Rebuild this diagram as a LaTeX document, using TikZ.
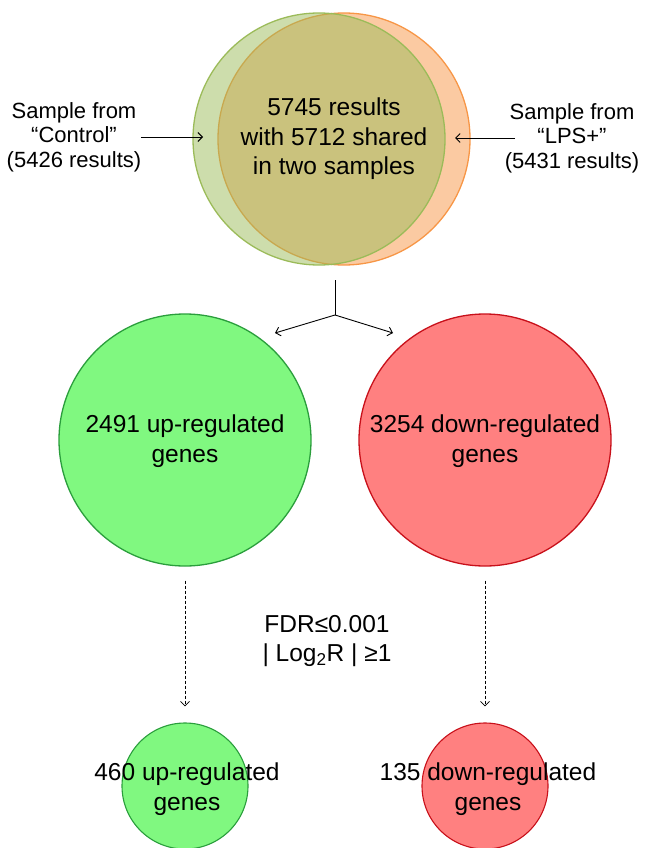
\documentclass[tikz,border=0pt]{standalone}
\usepackage{fontspec}
\setmainfont{Liberation Sans}
\usetikzlibrary{arrows.meta}

\definecolor{ctrlgreen}{HTML}{9BBB59}
\definecolor{lpsorange}{HTML}{F79646}
\definecolor{upgreen}{HTML}{80F880}
\definecolor{upline}{HTML}{2A9E3C}
\definecolor{downred}{HTML}{FF8080}
\definecolor{downline}{HTML}{C8101A}

\begin{document}
\begin{tikzpicture}[x=1pt, y=-1pt, >={Straight Barb[length=4.5pt,width=9pt]}]
    \tikzset{
        sample/.style={circle, draw, line width=1.3pt, minimum size=252pt, inner sep=0pt},
        subset/.style={circle, draw, line width=1.1pt, minimum size=126pt, inner sep=0pt},
        bigtext/.style={align=center, font=\fontsize{24.5}{29.5}\selectfont},
        sidetext/.style={align=center, font=\fontsize{22}{24.5}\selectfont},
        line/.style={draw, ->, line width=0.9pt},
        dashline/.style={draw, ->, dash pattern=on 3pt off 2pt, line width=0.7pt}
    }
    \useasboundingbox (0,0) rectangle (646,848);

    % samples before filtering
    \node [sample, draw=lpsorange, fill=lpsorange, fill opacity=0.5] (lps) at (344,139) {};
    \node [sample, draw=ctrlgreen, fill=ctrlgreen, fill opacity=0.5] (ctrl) at (319,139) {};
    \node [bigtext] (shared) at (334,139) {5745 results\\with 5712 shared\\in two samples};

    \node [sidetext] (ctrllabel) at (74,137) {Sample from\\“Control”\\(5426 results)};
    \node [sidetext] (lpslabel) at (572,138) {Sample from\\“LPS+”\\(5431 results)};
    \coordinate (ctrlin) at (203,137);
    \coordinate (lpsin) at (455,138);
    \path [line] ([xshift=-4pt]ctrllabel.east) -- (ctrlin);
    \path [line] ([xshift=14pt]lpslabel.west) -- (lpsin);

    % split into up / down
    \coordinate (stem) at (335,280);
    \coordinate (split) at (335,315);
    \coordinate (upin) at (275,333);
    \coordinate (downin) at (393,333);
    \draw [line width=0.9pt] (stem) -- (split);
    \path [line] (split) -- (upin);
    \path [line] (split) -- (downin);

    \node [sample, draw=upline, fill=upgreen] (upall) at (185,440) {};
    \node [bigtext] (upalltext) at ([yshift=-1pt]upall) {2491 up-regulated\\genes};
    \node [sample, draw=downline, fill=downred] (downall) at (485,440) {};
    \node [bigtext] (downalltext) at ([yshift=-1pt]downall) {3254 down-regulated\\genes};

    % threshold
    \node [bigtext] (fdr) at (327,641) {FDR≤0.001\\| Log\textsubscript{2}R | ≥1};

    \node [subset, draw=upline, fill=upgreen] (upsig) at (185,786) {};
    \node [bigtext] (upsigtext) at ([xshift=2pt,yshift=-3pt]upsig) {460 up-regulated\\genes};
    \node [subset, draw=downline, fill=downred] (downsig) at (485,786) {};
    \node [bigtext] (downsigtext) at ([xshift=3pt,yshift=-3pt]downsig) {135 down-regulated\\genes};

    \path [dashline] ([yshift=-14pt]upall.south) -- ([yshift=16pt]upsig.north);
    \path [dashline] ([yshift=-14pt]downall.south) -- ([yshift=16pt]downsig.north);
\end{tikzpicture}
\end{document}
